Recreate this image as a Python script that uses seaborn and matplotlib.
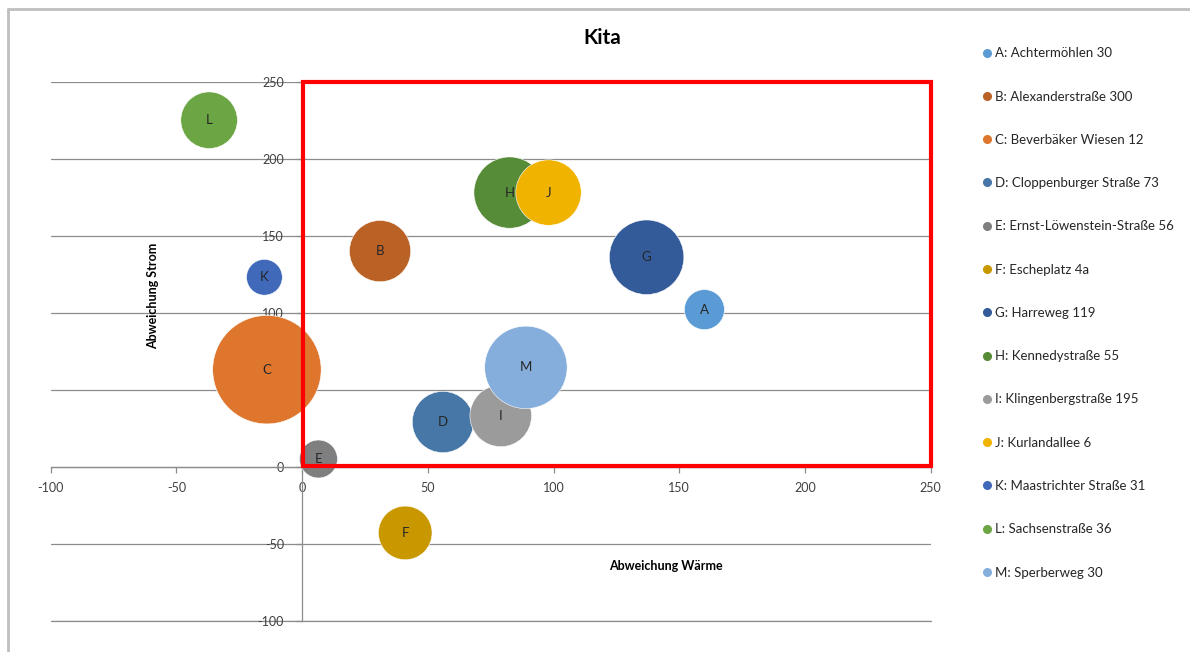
import matplotlib
matplotlib.use("Agg")
import matplotlib.pyplot as plt
from matplotlib.lines import Line2D
from matplotlib.patches import Rectangle
import seaborn as sns
import pandas as pd

# Kita locations: deviation heat (x), deviation electricity (y), bubble size
letters = ["A", "B", "C", "D", "E", "F", "G", "H", "I", "J", "K", "L", "M"]
names = [
    "A: Achtermöhlen 30",
    "B: Alexanderstraße 300",
    "C: Beverbäker Wiesen 12",
    "D: Cloppenburger Straße 73",
    "E: Ernst-Löwenstein-Straße 56",
    "F: Escheplatz 4a",
    "G: Harreweg 119",
    "H: Kennedystraße 55",
    "I: Klingenbergstraße 195",
    "J: Kurlandallee 6",
    "K: Maastrichter Straße 31",
    "L: Sachsenstraße 36",
    "M: Sperberweg 30",
]
waerme = [160, 31, -14, 56, 6.5, 41, 137, 82.5, 79, 98, -15, -37, 89]
strom = [102, 140, 63, 29, 5, -43, 136, 178, 33, 178, 123, 225, 64.5]
groesse = [40, 94, 294, 94, 36, 72, 139, 127, 95, 107, 32, 80, 170]
farben = ["#5B9BD5", "#BA6126", "#DE762E", "#4677A6", "#7F7F7F", "#C99700",
          "#335A99", "#568B37", "#9B9B9B", "#F0B400", "#4169BA", "#6CA544",
          "#86AEDC"]

df = pd.DataFrame({"name": names, "letter": letters, "x": waerme,
                   "y": strom, "size": groesse})

sns.set_theme(style="white")
plt.rcParams["font.family"] = ["Lato", "DejaVu Sans"]
plt.rcParams["axes.unicode_minus"] = False

fig = plt.figure(figsize=(11.9, 6.52), dpi=100)
ax = fig.add_axes([50.7 / 1190, 1 - 620.7 / 652,
                   (930.7 - 50.7) / 1190, (620.7 - 81.7) / 652])

palette = dict(zip(names, farben))
size_max = 300
pts_per_unit = 20.74
sns.scatterplot(data=df, x="x", y="y", hue="name", palette=palette,
                size="size", sizes=(0, size_max * pts_per_unit),
                size_norm=(0, size_max), legend=False, ax=ax,
                edgecolor="white", linewidth=0.4, alpha=1, zorder=3,
                clip_on=False)

for _, r in df.iterrows():
    ax.text(r["x"], r["y"], r["letter"], ha="center", va="center",
            fontsize=9.5, color="#262626", zorder=4)

ax.set_xlim(-100, 250)
ax.set_ylim(-100, 250)
ax.set_xticks(range(-100, 251, 50))
ax.set_yticks(range(-100, 251, 50))
ax.set_xlabel("")
ax.set_ylabel("")

grid_col = "#8C8C8C"
ax.yaxis.grid(True, color=grid_col, linewidth=0.9, zorder=0)
ax.xaxis.grid(False)
ax.set_axisbelow(True)
ax.axhline(-100, color=grid_col, linewidth=0.9, zorder=0.5, clip_on=False)
for s in ["top", "right"]:
    ax.spines[s].set_visible(False)
ax.spines["left"].set_position(("data", 0))
ax.spines["bottom"].set_position(("data", 0))
for s in ["left", "bottom"]:
    ax.spines[s].set_color(grid_col)
    ax.spines[s].set_linewidth(0.9)
    ax.spines[s].set_zorder(1)
ax.tick_params(axis="both", which="both", direction="out", length=4,
               width=0.9, color=grid_col, labelsize=9, labelcolor="#404040")
ax.tick_params(axis="x", pad=7, bottom=True)
ax.tick_params(axis="y", pad=9, left=True)
ax.patch.set_alpha(0)

# highlighted quadrant
ax.add_patch(Rectangle((0.5, 0.5), 249.5, 249, fill=False, edgecolor="#FF0000",
                       linewidth=3, zorder=6, clip_on=False))

fig.text(602 / 1190, 1 - 38 / 652, "Kita", ha="center", va="center",
         fontsize=15, fontweight="bold", color="black")
fig.text(666 / 1190, 1 - 566 / 652, "Abweichung Wärme", ha="center",
         va="center", fontsize=9, fontweight="bold", color="black")
fig.text(153 / 1190, 1 - 296 / 652, "Abweichung Strom", ha="center",
         va="center", rotation=90, fontsize=9, fontweight="bold",
         color="black")

# legend
handles = [Line2D([0], [0], marker="o", linestyle="", markersize=5.5,
                  markerfacecolor=c, markeredgecolor=c) for c in farben]
leg = fig.legend(handles, names, loc="upper left",
                 bbox_to_anchor=(975 / 1190, 1 - 42 / 652), frameon=False,
                 fontsize=9.5, labelspacing=2.37, handletextpad=0.1,
                 handlelength=1.0, borderaxespad=0)
for t in leg.get_texts():
    t.set_color("#262626")

# chart frame
fig.add_artist(Line2D([8 / 1190, 1], [1 - 8.5 / 652, 1 - 8.5 / 652],
                      color="#BFBFBF", linewidth=2, transform=fig.transFigure))
fig.add_artist(Line2D([8 / 1190, 8 / 1190], [0, 1 - 8.5 / 652],
                      color="#BFBFBF", linewidth=2, transform=fig.transFigure))

fig.savefig("out.png", dpi=100, facecolor="white")
